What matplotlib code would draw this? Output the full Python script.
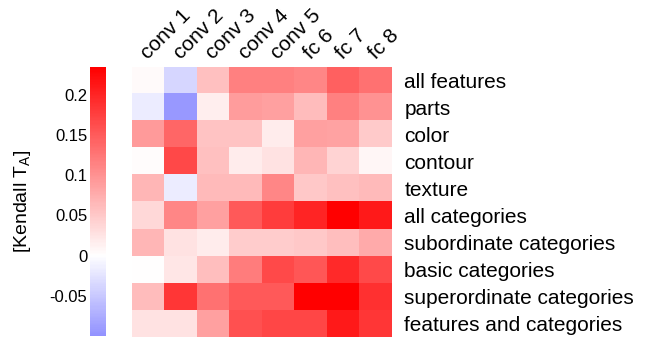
import matplotlib
matplotlib.use('Agg')
import matplotlib.pyplot as plt
import matplotlib.transforms as mtransforms
from matplotlib.colors import ListedColormap
import numpy as np

plt.rcParams['font.family'] = 'Liberation Sans'
plt.rcParams['mathtext.fontset'] = 'custom'
plt.rcParams['mathtext.rm'] = 'Liberation Sans'

layers = ['conv 1', 'conv 2', 'conv 3', 'conv 4', 'conv 5', 'fc 6', 'fc 7', 'fc 8']
rows = ['all features', 'parts', 'color', 'contour', 'texture', 'all categories',
        'subordinate categories', 'basic categories', 'superordinate categories',
        'features and categories']

all_features = [0.005, -0.036, 0.058, 0.117, 0.117, 0.110, 0.145, 0.130]
parts = [-0.017, -0.094, 0.016, 0.090, 0.088, 0.062, 0.117, 0.100]
color = [0.093, 0.140, 0.055, 0.055, 0.018, 0.088, 0.085, 0.049]
contour = [0.003, 0.168, 0.058, 0.018, 0.027, 0.067, 0.040, 0.008]
texture = [0.067, -0.017, 0.064, 0.064, 0.110, 0.050, 0.058, 0.064]
all_categories = [0.036, 0.110, 0.088, 0.150, 0.180, 0.200, 0.235, 0.210]
subordinate = [0.067, 0.027, 0.018, 0.047, 0.047, 0.051, 0.060, 0.078]
basic = [0.002, 0.022, 0.060, 0.120, 0.165, 0.154, 0.195, 0.165]
superordinate = [0.062, 0.183, 0.130, 0.150, 0.150, 0.235, 0.235, 0.190]
feat_and_cat = [0.027, 0.027, 0.088, 0.160, 0.170, 0.170, 0.210, 0.183]

data = np.array([all_features, parts, color, contour, texture, all_categories,
                 subordinate, basic, superordinate, feat_and_cat])

vmax = 0.235
vmin = -0.1
# bwr centred on zero, cut to the data range
lo = 0.5 + vmin / (2 * vmax)
cmap = ListedColormap(plt.cm.bwr(np.linspace(lo, 1.0, 256)))

fig = plt.figure(figsize=(6.52, 3.41), dpi=100)
ax = fig.add_axes([0.2025, 0.012, 0.3985, 0.792])
im = ax.imshow(data, cmap=cmap, vmin=vmin, vmax=vmax, aspect='auto',
               interpolation='nearest')
for s in ax.spines.values():
    s.set_visible(False)
ax.set_yticks(np.arange(len(rows)))
ax.set_yticklabels(rows, fontsize=15)
ax.yaxis.tick_right()
ax.tick_params(axis='y', length=0, pad=9)
ax.set_xticks(np.arange(len(layers)))
ax.xaxis.tick_top()
ax.set_xticklabels(layers, fontsize=15, rotation=45, ha='left',
                   rotation_mode='anchor', va='center')
ax.tick_params(axis='x', length=0, pad=4)
# nudge column labels up and a little left
shift = mtransforms.ScaledTranslation(-4 / 100, 5 / 100, fig.dpi_scale_trans)
for lab in ax.get_xticklabels():
    lab.set_transform(lab.get_transform() + shift)

cax = fig.add_axes([0.138, 0.015, 0.0245, 0.789])
cb = fig.colorbar(im, cax=cax)
cb.outline.set_visible(False)
cb.set_ticks([-0.05, 0, 0.05, 0.1, 0.15, 0.2])
cb.set_ticklabels(['-0.05', '0', '0.05', '0.1', '0.15', '0.2'])
cax.yaxis.set_ticks_position('left')
cax.yaxis.set_label_position('left')
cax.tick_params(length=0, labelsize=12, pad=2)
cb.set_label('[Kendall T$_\\mathrm{A}$]', fontsize=14, labelpad=12)

fig.savefig('out.png', dpi=100)
